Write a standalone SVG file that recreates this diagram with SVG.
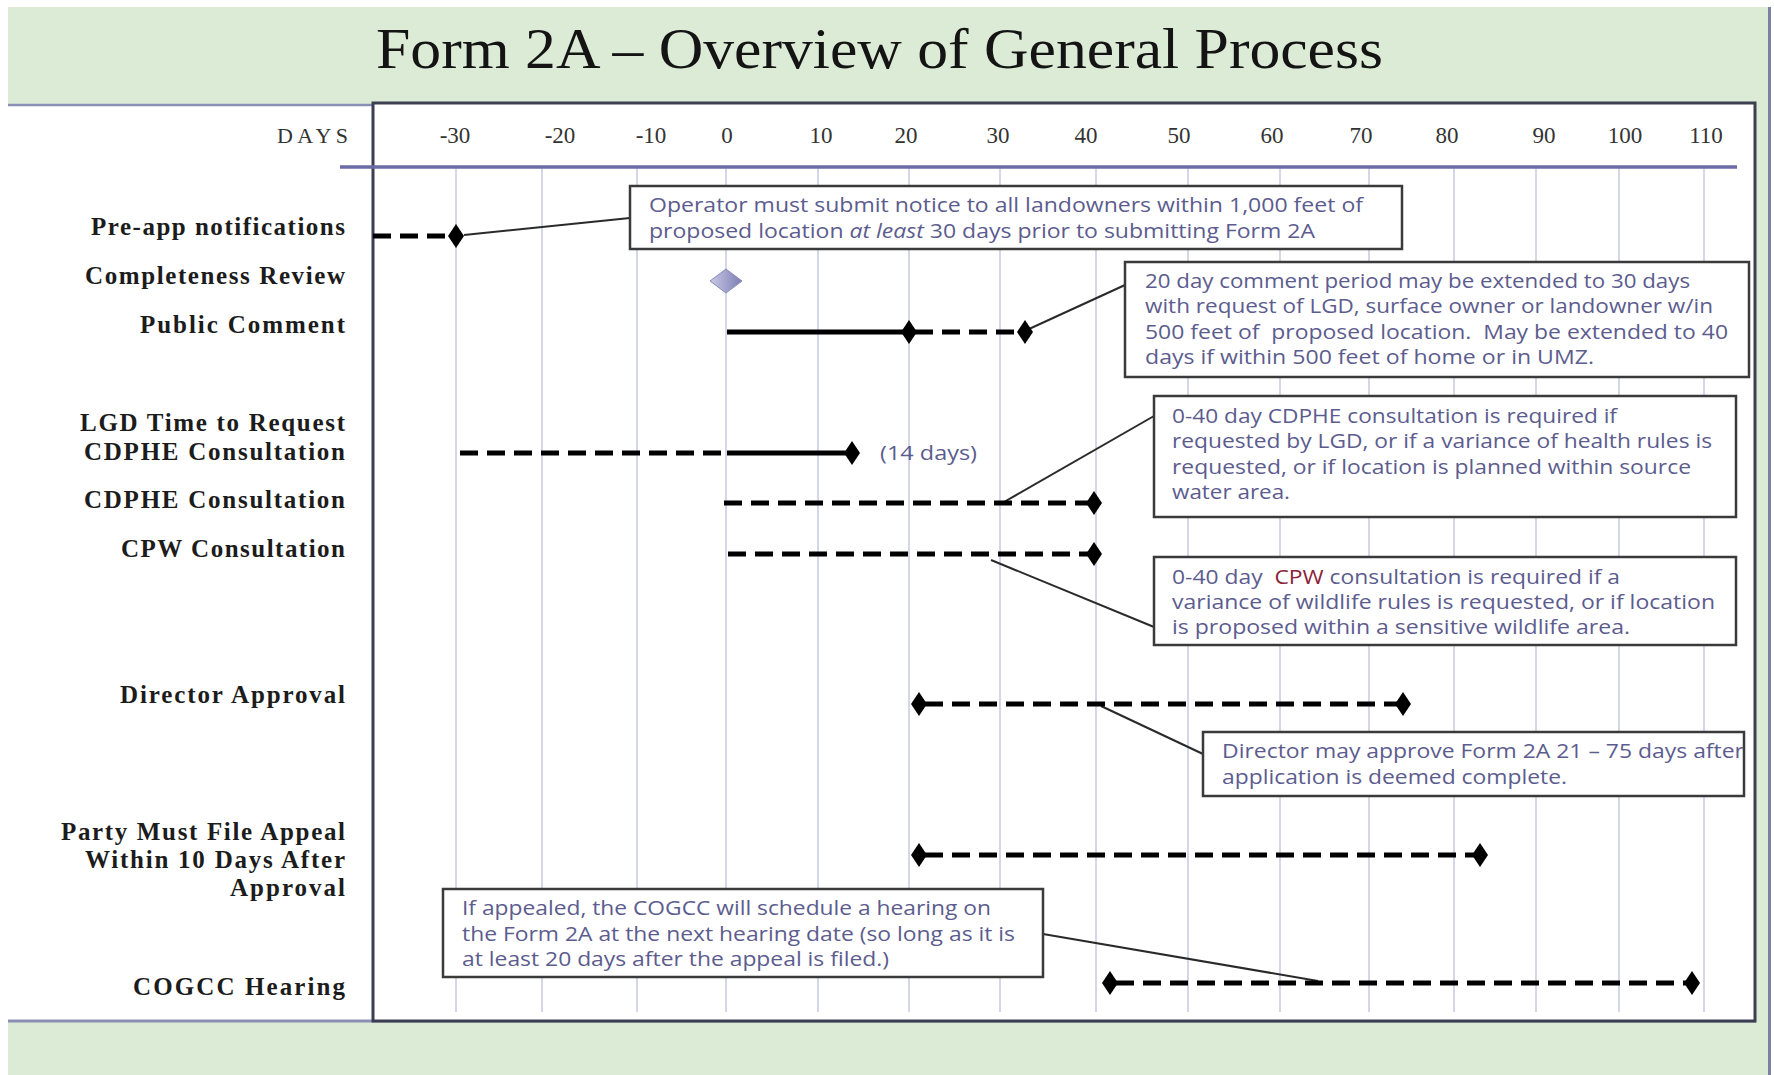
<svg xmlns="http://www.w3.org/2000/svg" xmlns:xlink="http://www.w3.org/1999/xlink" width="1774" height="1075" viewBox="0 0 1774 1075">
<style>
.title{font-family:"Liberation Serif",serif;font-size:56px;fill:#141414}
.tick{font-family:"Liberation Serif",serif;font-size:23px;fill:#333;text-anchor:middle}
.days{font-family:"Liberation Serif",serif;font-size:22px;fill:#333;text-anchor:end}
.lbl{font-family:"Liberation Serif",serif;font-size:25px;font-weight:bold;fill:#1c1c1c;text-anchor:end}
.note{font-family:"Open Sans","Noto Sans",sans-serif;font-size:20px;fill:#5c5c8e}
.grid{stroke:#d6d6ea;stroke-width:2}
.bar{stroke:#000;stroke-width:5;fill:none}
.dash{stroke:#000;stroke-width:5;fill:none;stroke-dasharray:18 9}
.box{fill:#fff;stroke:#3a3a3a;stroke-width:2.5}
.conn{stroke:#2a2a2a;stroke-width:2;fill:none}
</style>
<defs>
<path id="dia" d="M-8 0L0-12L8 0L0 12Z" fill="#000"/>
<linearGradient id="lav" x1="0" y1="0" x2="1" y2="0">
<stop offset="0" stop-color="#c9c9e6"/>
<stop offset="1" stop-color="#7d7db4"/>
</linearGradient>
</defs>

<g id="background">
<rect x="8" y="7" width="1760" height="1068" fill="#dcebd6"/>
<line x1="1769.5" y1="7" x2="1769.5" y2="1075" stroke="#7a82a6" stroke-width="3"/>
<rect x="8" y="105" width="366" height="916" fill="#fff"/>
<line x1="8" y1="105" x2="373" y2="105" stroke="#8a90b4" stroke-width="2.5"/>
<line x1="8" y1="1021" x2="1756" y2="1021" stroke="#8a90b4" stroke-width="3"/>
<rect x="373" y="103" width="1382" height="918" fill="#fff" stroke="#3c3f50" stroke-width="3"/>
</g>

<g id="title">
<text class="title" x="376" y="68" textLength="1007" lengthAdjust="spacingAndGlyphs">Form 2A – Overview of General Process</text>
</g>

<g id="axis">
<g class="grid">
<line x1="456" y1="168" x2="456" y2="1012"/>
<line x1="542" y1="168" x2="542" y2="1012"/>
<line x1="637" y1="168" x2="637" y2="1012"/>
<line x1="726" y1="168" x2="726" y2="1012"/>
<line x1="818" y1="168" x2="818" y2="1012"/>
<line x1="909" y1="168" x2="909" y2="1012"/>
<line x1="1000" y1="168" x2="1000" y2="1012"/>
<line x1="1096" y1="168" x2="1096" y2="1012"/>
<line x1="1188" y1="168" x2="1188" y2="1012"/>
<line x1="1280" y1="168" x2="1280" y2="1012"/>
<line x1="1369" y1="168" x2="1369" y2="1012"/>
<line x1="1454" y1="168" x2="1454" y2="1012"/>
<line x1="1536" y1="168" x2="1536" y2="1012"/>
<line x1="1619" y1="168" x2="1619" y2="1012"/>
<line x1="1704" y1="168" x2="1704" y2="1012"/>
</g>
<line x1="340" y1="167" x2="1737" y2="167" stroke="#6b6ba6" stroke-width="3.5"/>
<text class="days" x="348" y="143" textLength="71">DAYS</text>
<text class="tick" x="455" y="143">-30</text>
<text class="tick" x="560" y="143">-20</text>
<text class="tick" x="651" y="143">-10</text>
<text class="tick" x="727" y="143">0</text>
<text class="tick" x="821" y="143">10</text>
<text class="tick" x="906" y="143">20</text>
<text class="tick" x="998" y="143">30</text>
<text class="tick" x="1086" y="143">40</text>
<text class="tick" x="1179" y="143">50</text>
<text class="tick" x="1272" y="143">60</text>
<text class="tick" x="1361" y="143">70</text>
<text class="tick" x="1447" y="143">80</text>
<text class="tick" x="1544" y="143">90</text>
<text class="tick" x="1625" y="143">100</text>
<text class="tick" x="1706" y="143">110</text>
</g>

<g id="connectors">
<line class="conn" x1="464" y1="235" x2="630" y2="218"/>
<line class="conn" x1="1029" y1="329" x2="1125" y2="285"/>
<line class="conn" x1="1004" y1="502" x2="1154" y2="416"/>
<line class="conn" x1="991" y1="560" x2="1154" y2="627"/>
<line class="conn" x1="1101" y1="706" x2="1203" y2="754"/>
<line class="conn" x1="1318" y1="981" x2="1043" y2="934"/>
</g>

<g id="row-preapp">
<text class="lbl" x="345" y="235" textLength="254">Pre-app notifications</text>
<line class="dash" x1="373" y1="236" x2="452" y2="236"/>
<use xlink:href="#dia" x="456" y="236"/>
</g>

<g id="row-completeness">
<text class="lbl" x="345" y="284" textLength="260">Completeness Review</text>
<path d="M710 281L726 269L742 281L726 293Z" fill="url(#lav)" stroke="#8a8abb" stroke-width="1"/>
</g>

<g id="row-public">
<text class="lbl" x="345" y="333" textLength="205">Public Comment</text>
<line class="bar" x1="727" y1="332" x2="909" y2="332"/>
<line class="dash" x1="915" y1="332" x2="1022" y2="332"/>
<use xlink:href="#dia" x="909" y="332"/>
<use xlink:href="#dia" x="1025" y="332"/>
</g>

<g id="row-lgd">
<text class="lbl" x="345" y="431" textLength="265">LGD Time to Request</text>
<text class="lbl" x="345" y="460" textLength="261">CDPHE Consultation</text>
<line class="dash" x1="460" y1="453" x2="727" y2="453"/>
<line class="bar" x1="727" y1="453" x2="850" y2="453"/>
<use xlink:href="#dia" x="852" y="453"/>
<text class="note" x="880" y="460" textLength="97" lengthAdjust="spacingAndGlyphs">(14 days)</text>
</g>

<g id="row-cdphe">
<text class="lbl" x="345" y="508" textLength="261">CDPHE Consultation</text>
<line class="dash" x1="724" y1="503" x2="1092" y2="503"/>
<use xlink:href="#dia" x="1094" y="503"/>
</g>

<g id="row-cpw">
<text class="lbl" x="345" y="557" textLength="224">CPW Consultation</text>
<line class="dash" x1="728" y1="554" x2="1092" y2="554"/>
<use xlink:href="#dia" x="1094" y="554"/>
</g>

<g id="row-director">
<text class="lbl" x="345" y="703" textLength="225">Director Approval</text>
<line class="dash" x1="925" y1="704" x2="1400" y2="704"/>
<use xlink:href="#dia" x="919" y="704"/>
<use xlink:href="#dia" x="1403" y="704"/>
</g>

<g id="row-appeal">
<text class="lbl" x="345" y="840" textLength="284">Party Must File Appeal</text>
<text class="lbl" x="345" y="868" textLength="260">Within 10 Days After</text>
<text class="lbl" x="345" y="896" textLength="115">Approval</text>
<line class="dash" x1="925" y1="855" x2="1477" y2="855"/>
<use xlink:href="#dia" x="919" y="855"/>
<use xlink:href="#dia" x="1480" y="855"/>
</g>

<g id="row-cogcc">
<text class="lbl" x="345" y="995" textLength="212">COGCC Hearing</text>
<line class="dash" x1="1116" y1="983" x2="1689" y2="983"/>
<use xlink:href="#dia" x="1110" y="983"/>
<use xlink:href="#dia" x="1692" y="983"/>
</g>

<g id="note-preapp">
<rect class="box" x="630" y="186" width="772" height="63"/>
<text class="note" x="649" y="212" textLength="714" lengthAdjust="spacingAndGlyphs">Operator must submit notice to all landowners within 1,000 feet of</text>
<text class="note" x="649" y="238" textLength="666" lengthAdjust="spacingAndGlyphs">proposed location <tspan font-style="italic">at least</tspan> 30 days prior to submitting Form 2A</text>
</g>

<g id="note-public">
<rect class="box" x="1125" y="262" width="624" height="115"/>
<text class="note" x="1145" y="288" textLength="545" lengthAdjust="spacingAndGlyphs">20 day comment period may be extended to 30 days</text>
<text class="note" x="1145" y="313" textLength="568" lengthAdjust="spacingAndGlyphs">with request of LGD, surface owner or landowner w/in</text>
<text class="note" x="1145" y="339" textLength="583" lengthAdjust="spacingAndGlyphs" xml:space="preserve">500 feet of  proposed location.  May be extended to 40</text>
<text class="note" x="1145" y="364" textLength="449" lengthAdjust="spacingAndGlyphs">days if within 500 feet of home or in UMZ.</text>
</g>

<g id="note-cdphe">
<rect class="box" x="1154" y="396" width="582" height="121"/>
<text class="note" x="1172" y="423" textLength="445" lengthAdjust="spacingAndGlyphs">0-40 day CDPHE consultation is required if</text>
<text class="note" x="1172" y="448" textLength="540" lengthAdjust="spacingAndGlyphs">requested by LGD, or if a variance of health rules is</text>
<text class="note" x="1172" y="474" textLength="519" lengthAdjust="spacingAndGlyphs">requested, or if location is planned within source</text>
<text class="note" x="1172" y="499" textLength="118" lengthAdjust="spacingAndGlyphs">water area.</text>
</g>

<g id="note-cpw">
<rect class="box" x="1154" y="557" width="582" height="88"/>
<text class="note" x="1172" y="584" textLength="448" lengthAdjust="spacingAndGlyphs" xml:space="preserve">0-40 day  <tspan fill="#8a2438">CPW</tspan> consultation is required if a</text>
<text class="note" x="1172" y="609" textLength="543" lengthAdjust="spacingAndGlyphs">variance of wildlife rules is requested, or if location</text>
<text class="note" x="1172" y="634" textLength="458" lengthAdjust="spacingAndGlyphs">is proposed within a sensitive wildlife area.</text>
</g>

<g id="note-director">
<rect class="box" x="1203" y="732" width="541" height="64"/>
<text class="note" x="1222" y="758" textLength="522" lengthAdjust="spacingAndGlyphs">Director may approve Form 2A 21 – 75 days after</text>
<text class="note" x="1222" y="784" textLength="345" lengthAdjust="spacingAndGlyphs">application is deemed complete.</text>
</g>

<g id="note-cogcc">
<rect class="box" x="443" y="889" width="600" height="88"/>
<text class="note" x="462" y="915" textLength="529" lengthAdjust="spacingAndGlyphs">If appealed, the COGCC will schedule a hearing on</text>
<text class="note" x="462" y="941" textLength="553" lengthAdjust="spacingAndGlyphs">the Form 2A at the next hearing date (so long as it is</text>
<text class="note" x="462" y="966" textLength="427" lengthAdjust="spacingAndGlyphs">at least 20 days after the appeal is filed.)</text>
</g>
</svg>
